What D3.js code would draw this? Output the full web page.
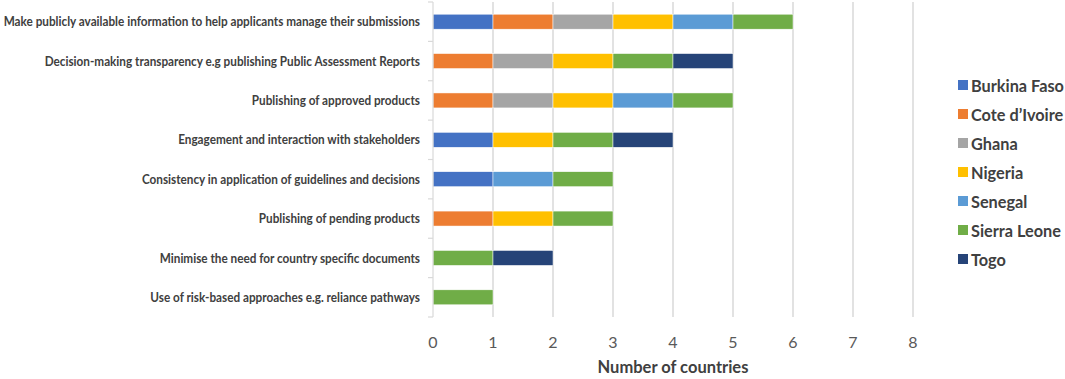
<!DOCTYPE html>
<html><head><meta charset="utf-8">
<script src="https://cdn.jsdelivr.net/npm/d3@7"></script>
<style>body{margin:0;background:#fff}svg{display:block}</style>
</head><body>
<svg id="c" width="1065" height="379"></svg>
<script>
const categories = [
  "Make publicly available information to help applicants manage their submissions",
  "Decision-making transparency e.g publishing Public Assessment Reports",
  "Publishing of approved products",
  "Engagement and interaction with stakeholders",
  "Consistency in application of guidelines and decisions",
  "Publishing of pending products",
  "Minimise the need for country specific documents",
  "Use of risk-based approaches e.g. reliance pathways"
];
const countries = ["Burkina Faso","Cote d\u2019Ivoire","Ghana","Nigeria","Senegal","Sierra Leone","Togo"];
const burkinaFaso = [1,0,0,1,1,0,0,0];
const coteDIvoire = [1,1,1,0,0,1,0,0];
const ghana       = [1,1,1,0,0,0,0,0];
const nigeria     = [1,1,1,1,0,1,0,0];
const senegal     = [1,0,1,0,1,0,0,0];
const sierraLeone = [1,1,1,1,1,1,1,1];
const togo        = [0,1,0,1,0,0,1,0];
const xTicks = [0,1,2,3,4,5,6,7,8];
const colors = ["#4472C4","#ED7D31","#A5A5A5","#FFC000","#5B9BD5","#70AD47","#264478"];

const seriesVals = [burkinaFaso, coteDIvoire, ghana, nigeria, senegal, sierraLeone, togo];
const rows = categories.map((c,i)=>{const o={cat:c}; countries.forEach((k,j)=>o[k]=seriesVals[j][i]); return o;});
const stack = d3.stack().keys(countries)(rows);

const svg = d3.select("#c");
const x = d3.scaleLinear().domain([0,8]).range([433,913]);
const y = d3.scaleBand().domain(categories).range([2,317]).paddingInner(0.62).paddingOuter(0.31);
const yb = d3.scaleBand().domain(categories).range([2,317]);

// gridlines
svg.append("g").selectAll("line").data(xTicks.slice(1)).join("line")
  .attr("x1",d=>x(d)).attr("x2",d=>x(d)).attr("y1",2).attr("y2",317)
  .attr("stroke","#d9d9d9").attr("stroke-width",1.5);

// bars
svg.append("g").selectAll("g").data(stack).join("g")
  .attr("fill",(d,i)=>colors[i])
  .selectAll("rect").data(d=>d.filter(s=>s[1]-s[0]>0)).join("rect")
  .attr("x",s=>x(s[0])).attr("width",s=>x(s[1])-x(s[0]))
  .attr("y",s=>y(s.data.cat)).attr("height",y.bandwidth())
  .attr("stroke","#fff").attr("stroke-width",0.5);

// y axis line and ticks
svg.append("line").attr("x1",433).attr("x2",433).attr("y1",2).attr("y2",317).attr("stroke","#d9d9d9").attr("stroke-width",1.2);
const bounds = categories.map(c=>yb(c)).concat([317]);
svg.append("g").selectAll("line").data(bounds).join("line")
  .attr("x1",428).attr("x2",433).attr("y1",d=>d).attr("y2",d=>d)
  .attr("stroke","#d9d9d9").attr("stroke-width",1.2);

// category labels (horizontally condensed to mimic a narrow face)
const lgrp = svg.append("g");
const labs = lgrp.selectAll("text").data(categories).join("text")
  .attr("x",0).attr("y",c=>yb(c)+yb.bandwidth()/2)
  .attr("text-anchor","end").attr("dominant-baseline","central")
  .attr("font-family","Lato, sans-serif").attr("font-weight","bold").attr("font-size",12.8)
  .attr("fill","#404040").text(c=>c);
const w0 = labs.nodes()[0].getComputedTextLength();
lgrp.attr("transform",`translate(420,0) scale(${417/w0},1)`);

// x tick labels
svg.append("g").selectAll("text").data(xTicks).join("text")
  .attr("x",d=>x(d)).attr("y",341).attr("text-anchor","middle").attr("dominant-baseline","central")
  .attr("font-family","Lato, sans-serif").attr("font-size",16).attr("fill","#595959").text(d=>d);

svg.append("text").attr("x",673).attr("y",367).attr("text-anchor","middle").attr("dominant-baseline","central")
  .attr("font-family","Lato, sans-serif").attr("font-weight","bold").attr("font-size",16.5).attr("fill","#404040")
  .text("Number of countries");

// legend
const lg = svg.append("g").selectAll("g").data(countries).join("g")
  .attr("transform",(d,i)=>`translate(958,${85+i*29})`);
lg.append("rect").attr("x",0).attr("y",-5).attr("width",10).attr("height",10).attr("fill",(d,i)=>colors[i]);
lg.append("text").attr("x",13).attr("y",0).attr("dominant-baseline","central")
  .attr("font-family","Lato, sans-serif").attr("font-weight","bold").attr("font-size",16.3).attr("fill","#404040").text(d=>d);
</script>
</body></html>
